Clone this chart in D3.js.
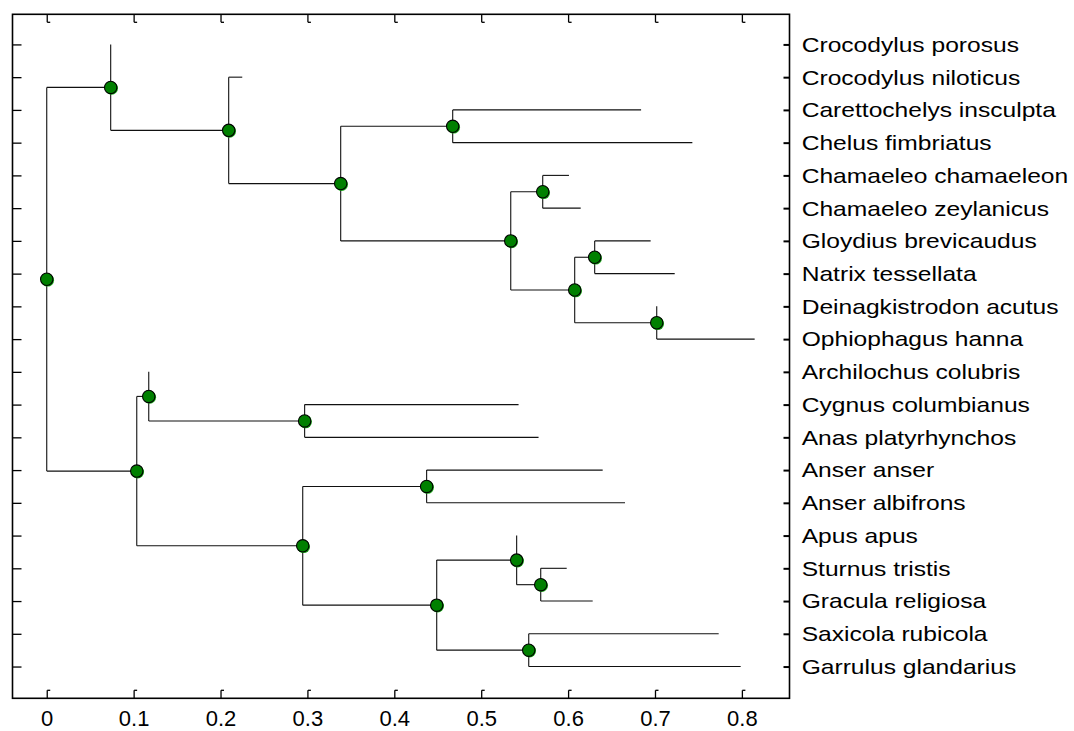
<!DOCTYPE html>
<meta charset="utf-8">
<style>
  body { margin: 0; background: #fff; }
  svg { display: block; font-family: "Liberation Sans", Arial, sans-serif; }
</style>
<svg width="1074" height="731"></svg>
<script src="https://cdn.jsdelivr.net/npm/d3@7"></script>
<script>

// leaves, top to bottom
var leaves = [
  "Crocodylus porosus", "Crocodylus niloticus", "Carettochelys insculpta", "Chelus fimbriatus",
  "Chamaeleo chamaeleon", "Chamaeleo zeylanicus", "Gloydius brevicaudus", "Natrix tessellata",
  "Deinagkistrodon acutus", "Ophiophagus hanna", "Archilochus colubris", "Cygnus columbianus",
  "Anas platyrhynchos", "Anser anser", "Anser albifrons", "Apus apus",
  "Sturnus tristis", "Gracula religiosa", "Saxicola rubicola", "Garrulus glandarius"
];
// distance from root where each leaf branch ends
var leafDist = [0.0736, 0.225, 0.684, 0.743, 0.601, 0.6145, 0.695, 0.7227, 0.702, 0.8147,
                0.1174, 0.543, 0.566, 0.6398, 0.6655, 0.5408, 0.5984, 0.6283, 0.7733, 0.7986];
var leafParent = ["A", "B", "D", "D", "F", "F", "H", "H", "I", "I",
                  "K", "L", "L", "N", "N", "P", "R", "R", "Q", "Q"];

// internal nodes
var nodeIds    = ["root", "A", "B", "C", "D", "E", "F", "G", "H", "I",
                  "J", "K", "L", "M", "N", "O", "P", "Q", "R"];
var nodeDist   = [0, 0.0736, 0.2094, 0.3383, 0.4672, 0.534, 0.5708, 0.6076, 0.6306, 0.702,
                  0.1036, 0.1174, 0.2968, 0.2946, 0.4372, 0.4488, 0.5408, 0.5547, 0.5685];
var nodeParent = [null, "root", "A", "B", "C", "C", "E", "E", "G", "G",
                  "root", "J", "K", "J", "M", "M", "O", "O", "P"];

var xTicks = [0, 0.1, 0.2, 0.3, 0.4, 0.5, 0.6, 0.7, 0.8];

var svg = d3.select("svg"),
    plotL = 12.5, plotR = 789.5, plotT = 14.3, plotB = 698.3;

var x = d3.scaleLinear().domain([-0.0394, 0.8548]).range([plotL, plotR]);
var y = d3.scaleLinear().domain([-0.92, 19.97]).range([plotT, plotB]);

var rows = nodeIds.map(function(id, i) { return {id: id, parentId: nodeParent[i], dist: nodeDist[i]}; })
  .concat(leaves.map(function(name, i) { return {id: name, parentId: leafParent[i], dist: leafDist[i], row: i}; }));

var root = d3.stratify()(rows);
root.eachAfter(function(d) {
  d.pos = d.children ? d3.mean(d.children, function(c) { return c.pos; }) : d.data.row;
});

// tree lines
var g = svg.append("g").attr("fill", "none").attr("stroke", "#111").attr("stroke-width", 1.1);

root.descendants().forEach(function(d) {
  if (d.children) {
    var ext = d3.extent(d.children, function(c) { return c.pos; });
    g.append("line")
      .attr("x1", x(d.data.dist)).attr("x2", x(d.data.dist))
      .attr("y1", y(ext[0])).attr("y2", y(ext[1]));
  }
  if (d.parent) {
    g.append("line")
      .attr("x1", x(d.parent.data.dist)).attr("x2", x(d.data.dist))
      .attr("y1", y(d.pos)).attr("y2", y(d.pos));
  }
});

// node dots
var inner = root.descendants().filter(function(d) { return d.children; });

svg.append("g").selectAll("circle").data(inner).join("circle")
    .attr("cx", function(d) { return x(d.data.dist) + 0.9; })
    .attr("cy", function(d) { return y(d.pos) + 0.9; })
    .attr("r", 6.4)
    .attr("fill", "#16a016");

svg.append("g").selectAll("circle").data(inner).join("circle")
    .attr("cx", function(d) { return x(d.data.dist); })
    .attr("cy", function(d) { return y(d.pos); })
    .attr("r", 6.2)
    .attr("fill", "#008000")
    .attr("stroke", "#000")
    .attr("stroke-width", 1.1);

// frame
svg.append("rect")
    .attr("x", plotL).attr("y", plotT)
    .attr("width", plotR - plotL).attr("height", plotB - plotT)
    .attr("fill", "none").attr("stroke", "#000").attr("stroke-width", 1.6);

var rowTicks = d3.range(leaves.length);

var bottomAxis = svg.append("g")
    .attr("transform", "translate(0," + plotB + ")")
    .call(d3.axisBottom(x).tickValues(xTicks).tickSizeInner(-8).tickSizeOuter(0).tickPadding(12.5)
      .tickFormat(function(d) { return d === 0 ? "0" : d3.format(".1f")(d); }));

var topAxis = svg.append("g")
    .attr("transform", "translate(0," + plotT + ")")
    .call(d3.axisTop(x).tickValues(xTicks).tickSizeInner(-8).tickSizeOuter(0).tickFormat(""));

var leftAxis = svg.append("g")
    .attr("transform", "translate(" + plotL + ",0)")
    .call(d3.axisLeft(y).tickValues(rowTicks).tickSizeInner(-9).tickSizeOuter(0).tickFormat(""));

var rightAxis = svg.append("g")
    .attr("transform", "translate(" + plotR + ",0)")
    .call(d3.axisRight(y).tickValues(rowTicks).tickSizeInner(-6).tickSizeOuter(0).tickFormat(""));

[bottomAxis, topAxis, leftAxis, rightAxis].forEach(function(a) {
  a.select(".domain").remove();
  a.selectAll(".tick line").attr("stroke", "#000").attr("stroke-width", 1.3);
});
rightAxis.selectAll(".tick line").attr("stroke-width", 2);

// little feet on the x ticks
bottomAxis.selectAll(".tick").append("line")
    .attr("x1", 0).attr("x2", 3).attr("y1", -8).attr("y2", -8)
    .attr("stroke", "#000").attr("stroke-width", 1.3);
topAxis.selectAll(".tick").append("line")
    .attr("x1", 0).attr("x2", 3).attr("y1", 8).attr("y2", 8)
    .attr("stroke", "#000").attr("stroke-width", 1.3);

bottomAxis.attr("font-size", 22).attr("font-family", "'Liberation Sans', Arial, sans-serif");
bottomAxis.selectAll("text").attr("fill", "#000");

// leaf labels
svg.append("g").selectAll("text").data(leaves).join("text")
    .attr("transform", function(d, i) { return "translate(801.7," + y(i) + ") scale(1.2,1)"; })
    .attr("dy", "0.36em")
    .attr("font-size", 20.5)
    .attr("fill", "#000")
    .text(function(d) { return d; });

</script>
